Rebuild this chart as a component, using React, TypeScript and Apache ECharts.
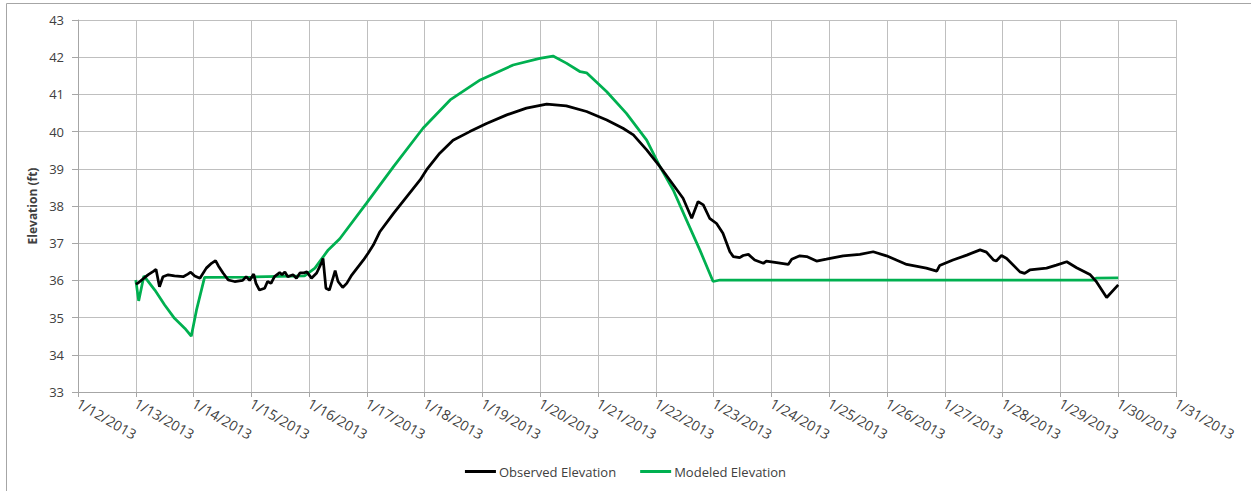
import React, { useEffect, useRef } from "react";
import * as echarts from "echarts";

// x values: days after 1/12/2013 00:00
const dateLabels = [
  "1/12/2013", "1/13/2013", "1/14/2013", "1/15/2013", "1/16/2013", "1/17/2013",
  "1/18/2013", "1/19/2013", "1/20/2013", "1/21/2013", "1/22/2013", "1/23/2013",
  "1/24/2013", "1/25/2013", "1/26/2013", "1/27/2013", "1/28/2013", "1/29/2013",
  "1/30/2013", "1/31/2013",
];

const observedDays = [
  1.0, 1.04, 1.21, 1.31, 1.35, 1.41, 1.47, 1.56, 1.67, 1.82, 1.9, 1.95, 2.02, 2.11,
  2.22, 2.31, 2.38, 2.43, 2.51, 2.6, 2.71, 2.85, 2.91, 2.97, 3.04, 3.08, 3.14, 3.23,
  3.28, 3.34, 3.4, 3.49, 3.53, 3.58, 3.63, 3.72, 3.78, 3.84, 3.9, 3.96, 4.04, 4.13,
  4.22, 4.24, 4.29, 4.35, 4.42, 4.45, 4.5, 4.58, 4.65, 4.74, 4.85, 4.94, 5.02, 5.11,
  5.22, 5.46, 5.69, 5.92, 6.03, 6.26, 6.49, 6.78, 7.07, 7.42, 7.76, 8.11, 8.45, 8.8,
  9.15, 9.43, 9.61, 9.84, 10.07, 10.24, 10.47, 10.62, 10.73, 10.82, 10.93, 11.05,
  11.16, 11.28, 11.34, 11.45, 11.51, 11.6, 11.71, 11.86, 11.91, 12.09, 12.29, 12.35,
  12.49, 12.61, 12.78, 12.95, 13.24, 13.53, 13.76, 13.99, 14.34, 14.68, 14.86, 14.91,
  15.14, 15.38, 15.61, 15.72, 15.84, 15.89, 15.98, 16.07, 16.3, 16.38, 16.47, 16.76,
  16.93, 17.11, 17.28, 17.51, 17.62, 17.8, 18.0,
];
const observedElevation = [
  35.9, 35.93, 36.15, 36.25, 36.3, 35.83, 36.1, 36.15, 36.12, 36.1, 36.17, 36.22, 36.12, 36.06,
  36.33, 36.46, 36.53, 36.39, 36.2, 36.01, 35.97, 36.0, 36.1, 36.0, 36.17, 35.92, 35.74, 35.79,
  35.97, 35.92, 36.1, 36.21, 36.15, 36.23, 36.1, 36.15, 36.06, 36.2, 36.2, 36.23, 36.06, 36.2,
  36.5, 36.59, 35.79, 35.74, 36.1, 36.26, 35.97, 35.81, 35.92, 36.15, 36.37, 36.55, 36.73, 36.95,
  37.3, 37.8, 38.25, 38.7, 38.97, 39.42, 39.77, 40.0, 40.22, 40.45, 40.63, 40.74, 40.69, 40.54,
  40.31, 40.09, 39.91, 39.51, 39.06, 38.7, 38.21, 37.67, 38.12, 38.03, 37.67, 37.53,
  37.27, 36.77, 36.64, 36.61, 36.67, 36.7, 36.55, 36.46, 36.52, 36.48, 36.43, 36.57,
  36.66, 36.64, 36.52, 36.57, 36.66, 36.7, 36.77, 36.66, 36.43, 36.33, 36.25, 36.4,
  36.55, 36.68, 36.82, 36.76, 36.55, 36.52, 36.67, 36.59, 36.23, 36.19, 36.28, 36.33,
  36.41, 36.5, 36.34, 36.16, 35.97, 35.54, 35.88,
];

const modeledDays = [
  1.0, 1.05, 1.14, 1.33, 1.5, 1.67, 1.85, 1.96, 2.05, 2.19, 3.0, 3.92, 4.1, 4.33, 4.53,
  4.99, 5.46, 5.97, 6.44, 6.96, 7.53, 7.99, 8.22, 8.45, 8.69, 8.8, 9.15, 9.49, 9.84,
  10.07, 10.3, 10.53, 10.76, 10.99, 11.11, 17.57, 17.62, 18.0,
];
const modeledElevation = [
  36.01, 35.45, 36.12, 35.74, 35.34, 34.98, 34.71, 34.5, 35.2, 36.08, 36.09, 36.12, 36.33, 36.82, 37.12,
  38.07, 39.06, 40.09, 40.85, 41.39, 41.79, 41.97, 42.03, 41.84, 41.61, 41.58, 41.07, 40.49, 39.77,
  39.06, 38.43, 37.62, 36.82, 35.97, 36.01, 36.01, 36.06, 36.07,
];

const FONT = "'Open Sans', sans-serif";

export default function App() {
  const ref = useRef<HTMLDivElement>(null);
  useEffect(() => {
    if (!ref.current) return;
    const chart = echarts.init(ref.current, undefined, { renderer: "svg" });
    const obs = observedDays.map((d, i) => [d, observedElevation[i]]);
    const mod = modeledDays.map((d, i) => [d, modeledElevation[i]]);
    chart.setOption({
      animation: false,
      backgroundColor: "#ffffff",
      textStyle: { fontFamily: FONT },
      grid: { left: 78, right: 75, top: 20, bottom: 99, containLabel: false },
      graphic: [
        { type: "line", shape: { x1: 6.5, y1: 3.5, x2: 6.5, y2: 491 }, style: { stroke: "#a6a6a6", lineWidth: 1 } },
        { type: "line", shape: { x1: 6.5, y1: 3.5, x2: 1251, y2: 3.5 }, style: { stroke: "#a6a6a6", lineWidth: 1 } },
      ],
      legend: {
        left: "center",
        top: 460,
        itemWidth: 31,
        itemHeight: 3,
        itemGap: 24,
        icon: "rect",
        textStyle: { fontFamily: FONT, fontSize: 13, color: "#404040", padding: [0, 0, 0, -2] },
        data: ["Observed Elevation", "Modeled Elevation"],
      },
      xAxis: {
        type: "value",
        min: 0,
        max: 19,
        interval: 1,
        axisLine: { show: true, onZero: false, lineStyle: { color: "#a6a6a6", width: 1 } },
        axisTick: { show: true, length: 5, lineStyle: { color: "#a6a6a6" } },
        splitLine: { show: true, lineStyle: { color: "#bfbfbf", width: 1 } },
        axisLabel: {
          rotate: -30,
          margin: 10,
          fontFamily: FONT,
          fontSize: 14,
          color: "#404040",
          showMinLabel: true,
          showMaxLabel: true,
          formatter: (v: number) => dateLabels[Math.round(v)] ?? "",
        },
      },
      yAxis: {
        type: "value",
        min: 33,
        max: 43,
        interval: 1,
        name: "Elevation (ft)",
        nameLocation: "middle",
        nameGap: 37,
        nameTextStyle: { fontFamily: FONT, fontSize: 12, fontWeight: "bold", color: "#404040" },
        axisLine: { show: true, lineStyle: { color: "#a6a6a6", width: 1 } },
        axisTick: { show: true, length: 6, lineStyle: { color: "#a6a6a6" } },
        splitLine: { show: true, lineStyle: { color: "#bfbfbf", width: 1 } },
        axisLabel: { margin: 14, fontFamily: FONT, fontSize: 13, color: "#404040" },
      },
      series: [
        {
          name: "Observed Elevation",
          type: "line",
          data: obs,
          showSymbol: false,
          symbol: "none",
          lineStyle: { color: "#000000", width: 2.75 },
          itemStyle: { color: "#000000" },
          z: 3,
        },
        {
          name: "Modeled Elevation",
          type: "line",
          data: mod,
          showSymbol: false,
          symbol: "none",
          lineStyle: { color: "#00b050", width: 2.75 },
          itemStyle: { color: "#00b050" },
          z: 2,
        },
      ],
    });
    return () => chart.dispose();
  }, []);
  return (
    <div
      ref={ref}
      style={{ position: "absolute", left: 0, top: 0, width: 1251, height: 491 }}
    />
  );
}
